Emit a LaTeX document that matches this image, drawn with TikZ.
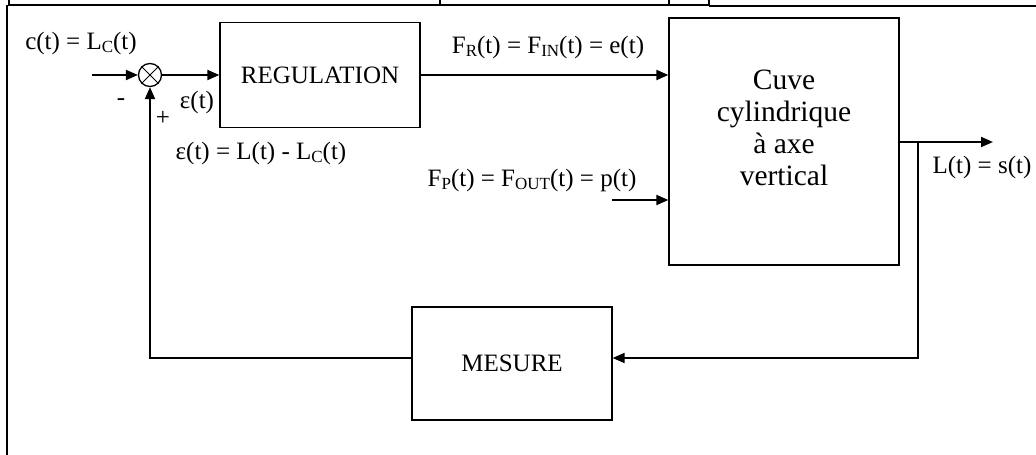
\documentclass[tikz,border=0pt]{standalone}
\usepackage{fontspec}
\setmainfont{Liberation Serif}
\usetikzlibrary{arrows.meta}
\newcommand\lsub[1]{\raisebox{-0.3ex}{\fontsize{17}{17}\selectfont #1}}
\begin{document}
\begin{tikzpicture}[x=1pt,y=-1pt,
  box/.style={draw,line width=1.3pt,inner sep=0pt},
  conn/.style={line width=2pt,-{Triangle[length=12pt,width=10pt]}},
  wire/.style={line width=2pt},
  lbl/.style={inner sep=0pt,font=\fontsize{25}{30}\selectfont}]
\useasboundingbox (0,0) rectangle (1036,455);
% frame and clipped title box
\draw[line width=2pt] (9,0) -- (9,5) -- (709,5) -- (709,0);
\draw[wire] (440,0) -- (440,5) (669,0) -- (669,5);
\draw[line width=1.5pt] (709,6) -- (1036,6);
\draw[line width=2.2pt] (7,5) -- (7,455);
% blocks
\node[circle,draw,line width=1.3pt,minimum size=23pt,inner sep=0pt] (sum) at (150,75) {};
\draw[line width=1pt] (sum.north west) -- (sum.south east) (sum.north east) -- (sum.south west);
\node[box,minimum width=200pt,minimum height=105pt,lbl] (reg) at (320,75) {REGULATION};
\node[box,minimum width=230pt,minimum height=247pt] (cuve) at (784,141.5) {};
\node[lbl,align=center,font=\fontsize{29.5}{32}\selectfont] (cuvet) at (784,128) {Cuve\\cylindrique\\à axe\\vertical};
\node[box,minimum width=200pt,minimum height=113pt,lbl] (mes) at (512,363.5) {MESURE};
% coordinates
\coordinate (cin) at (92,75);
\coordinate (pin) at (612,200);
\coordinate (out) at (993,142);
\coordinate (br) at (918,142);
\coordinate (fb) at (918,358);
% connectors
\draw[conn] (cin) -- (sum);
\draw[conn] (sum) -- (reg);
\draw[conn] (reg.east) -- (cuve.west|-reg.east);
\draw[conn] (pin) -- (cuve.west|-pin);
\draw[conn] (cuve.east|-out) -- (out);
\draw[conn] (br) -- (fb) -- (mes.east|-fb);
\draw[conn] (mes.west|-fb) -- (sum.south|-fb) -- (sum.south);
% labels
\node[lbl] (lc) at (81,43) {c(t) = L\lsub{C}(t)};
\node[lbl] (eps) at (197,102) {ε(t)};
\node[lbl] (minus) at (121,102) {-};
\node[lbl] (plus) at (163,118) {+};
\node[lbl] (epsdef) at (261,153) {ε(t) = L(t) - L\lsub{C}(t)};
\node[lbl] (fr) at (548,47) {F\lsub{R}(t) = F\lsub{IN}(t) = e(t)};
\node[lbl] (fp) at (532,180) {F\lsub{P}(t) = F\lsub{OUT}(t) = p(t)};
\node[lbl] (ls) at (982,167) {L(t) = s(t)};
\end{tikzpicture}
\end{document}
